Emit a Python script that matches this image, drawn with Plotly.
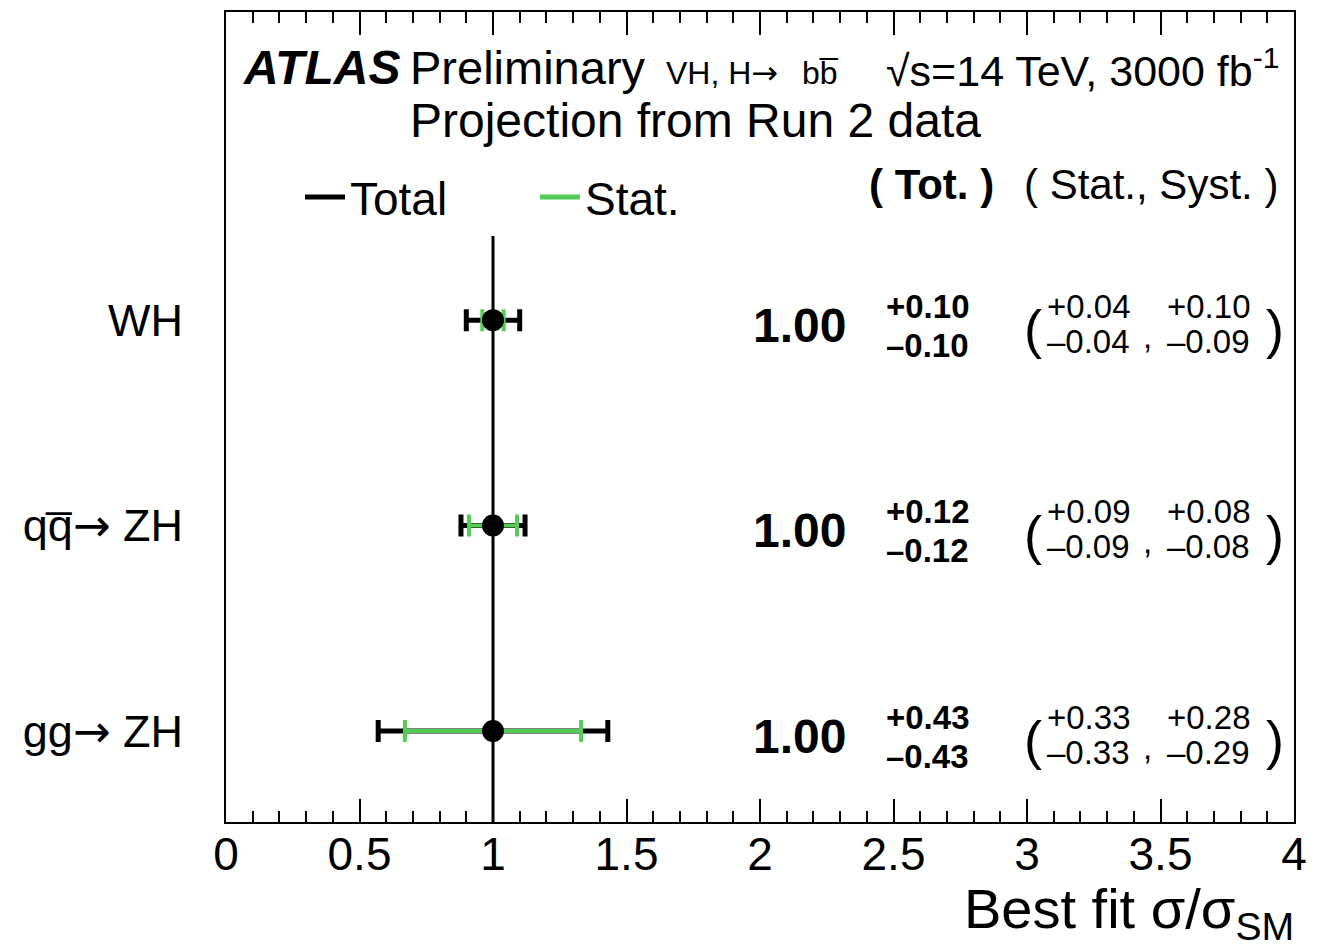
import plotly.graph_objects as go

# ---------------- data ----------------
categories = ["WH", "qq\u0305<span style='font-family:DejaVu Sans'>\u2192</span> ZH",
              "gg<span style='font-family:DejaVu Sans'>\u2192</span> ZH"]
row_pos = [3, 2, 1]
mu = [1.00, 1.00, 1.00]
tot_up = [0.10, 0.12, 0.43]
tot_dn = [0.10, 0.12, 0.43]
stat_up = [0.04, 0.09, 0.33]
stat_dn = [0.04, 0.09, 0.33]
syst_up = [0.10, 0.08, 0.28]
syst_dn = [0.09, 0.08, 0.29]
sm_value = 1.0
x_ticks = [0, 0.5, 1, 1.5, 2, 2.5, 3, 3.5, 4]
x_ticktext = ["0", "0.5", "1", "1.5", "2", "2.5", "3", "3.5", "4"]

# ---------------- layout helpers ----------------
W, H = 1326, 951
L, R, T, B = 226, 1294, 12, 822
FONT = "Liberation Sans, Arial, Helvetica, sans-serif"
GREEN = "#55CC55"


def px(x):
    return (x - L) / (R - L)


def py(y):
    return (B - y) / (B - T)


fig = go.Figure()

# total uncertainty
fig.add_trace(go.Scatter(
    x=mu, y=row_pos, mode="markers",
    marker=dict(size=1, color="rgba(0,0,0,0)"),
    error_x=dict(type="data", symmetric=False, array=tot_up, arrayminus=tot_dn,
                 color="black", thickness=5, width=11),
    showlegend=False, hoverinfo="skip"))
# stat uncertainty
fig.add_trace(go.Scatter(
    x=mu, y=row_pos, mode="markers",
    marker=dict(size=1, color="rgba(0,0,0,0)"),
    error_x=dict(type="data", symmetric=False, array=stat_up, arrayminus=stat_dn,
                 color=GREEN, thickness=4, width=11),
    showlegend=False, hoverinfo="skip"))
# central values
fig.add_trace(go.Scatter(
    x=mu, y=row_pos, mode="markers",
    marker=dict(size=22, color="black"),
    showlegend=False))

# legend entries
fig.add_trace(go.Scatter(x=[None], y=[None], mode="lines",
                         line=dict(color="black", width=5), name="Total"))
fig.add_trace(go.Scatter(x=[None], y=[None], mode="lines",
                         line=dict(color=GREEN, width=5), name="Stat."))

# SM reference line
fig.add_shape(type="line", xref="x", yref="y", x0=sm_value, x1=sm_value,
              y0=0.557, y1=3.41, line=dict(color="black", width=3), layer="below")

ann = []
ARROW = "<span style='font-family:DejaVu Sans'>\u2192</span>"


def add(text, x, y, size, xanchor="left", yref="paper", yshift=0, bold=False):
    if bold:
        text = "<b>" + text + "</b>"
    ann.append(dict(text=text, x=x, y=y, xref="paper", yref=yref,
                    xanchor=xanchor, yanchor="middle", yshift=yshift,
                    showarrow=False, font=dict(family=FONT, size=size, color="black")))


# header texts
add("<b><i>ATLAS</i></b>", px(241), py(68), 48)
add("Preliminary", px(408), py(68), 47)
add("VH, H" + ARROW, px(664), py(73), 32)
add("bb\u0305", px(800), py(73), 32)
add("\u221as=14 TeV, 3000 fb<sup>-1</sup>", px(884), py(68), 43)
add("Projection from Run 2 data", px(408), py(121), 48)
add("( Tot. )", px(931), py(184), 42, xanchor="center", bold=True)
add("( Stat., Syst. )", px(1151), py(184), 42, xanchor="center")

# per-row numbers
for i in range(len(categories)):
    yv = row_pos[i]
    add(f"{mu[i]:.2f}", px(799), yv, 48, xanchor="center", yref="y", yshift=-5, bold=True)
    add(f"+{tot_up[i]:.2f}", px(884), yv, 33, yref="y", yshift=14, bold=True)
    add(f"\u2013{tot_dn[i]:.2f}", px(884), yv, 33, yref="y", yshift=-25, bold=True)
    add("(", px(1022), yv, 54, yref="y", yshift=-9)
    add(f"+{stat_up[i]:.2f}", px(1045), yv, 33, yref="y", yshift=14)
    add(f"\u2013{stat_dn[i]:.2f}", px(1045), yv, 33, yref="y", yshift=-21)
    add(",", px(1141), yv, 33, yref="y", yshift=-16)
    add(f"+{syst_up[i]:.2f}", px(1165), yv, 33, yref="y", yshift=14)
    add(f"\u2013{syst_dn[i]:.2f}", px(1165), yv, 33, yref="y", yshift=-21)
    add(")", px(1264), yv, 54, yref="y", yshift=-9)

# x-axis title
ann.append(dict(text="Best fit \u03c3/\u03c3<sub>SM</sub>", x=px(1296), y=py(912),
                xref="paper", yref="paper", xanchor="right", yanchor="middle",
                showarrow=False, font=dict(family=FONT, size=56, color="black")))

fig.update_layout(
    width=W, height=H,
    margin=dict(l=L, r=W - R, t=T, b=H - B, autoexpand=False),
    paper_bgcolor="white", plot_bgcolor="white",
    font=dict(family=FONT, color="black"),
    annotations=ann,
    showlegend=True,
    legend=dict(orientation="h", x=px(300), y=py(197), xanchor="left", yanchor="middle",
                font=dict(family=FONT, size=46, color="black"),
                entrywidth=180, entrywidthmode="pixels",
                bgcolor="rgba(0,0,0,0)", borderwidth=0, itemwidth=40),
    xaxis=dict(range=[0, 4], tickvals=x_ticks, ticktext=x_ticktext,
               ticks="inside", ticklen=23, tickwidth=1.5, tickcolor="black",
               minor=dict(dtick=0.1, ticks="inside", ticklen=11, tickwidth=1.5, tickcolor="black"),
               showline=True, linewidth=2, linecolor="black", mirror="ticks",
               showgrid=False, zeroline=False, automargin=False,
               tickfont=dict(family=FONT, size=46, color="black"),
               ticklabelstandoff=-9),
    yaxis=dict(range=[0.557, 4.5], tickvals=row_pos, ticktext=categories,
               ticks="", showline=True, linewidth=2, linecolor="black", mirror=True,
               showgrid=False, zeroline=False, automargin=False,
               tickfont=dict(family=FONT, size=45, color="black"),
               ticklabelstandoff=32),
)

fig.write_html("out.html")
